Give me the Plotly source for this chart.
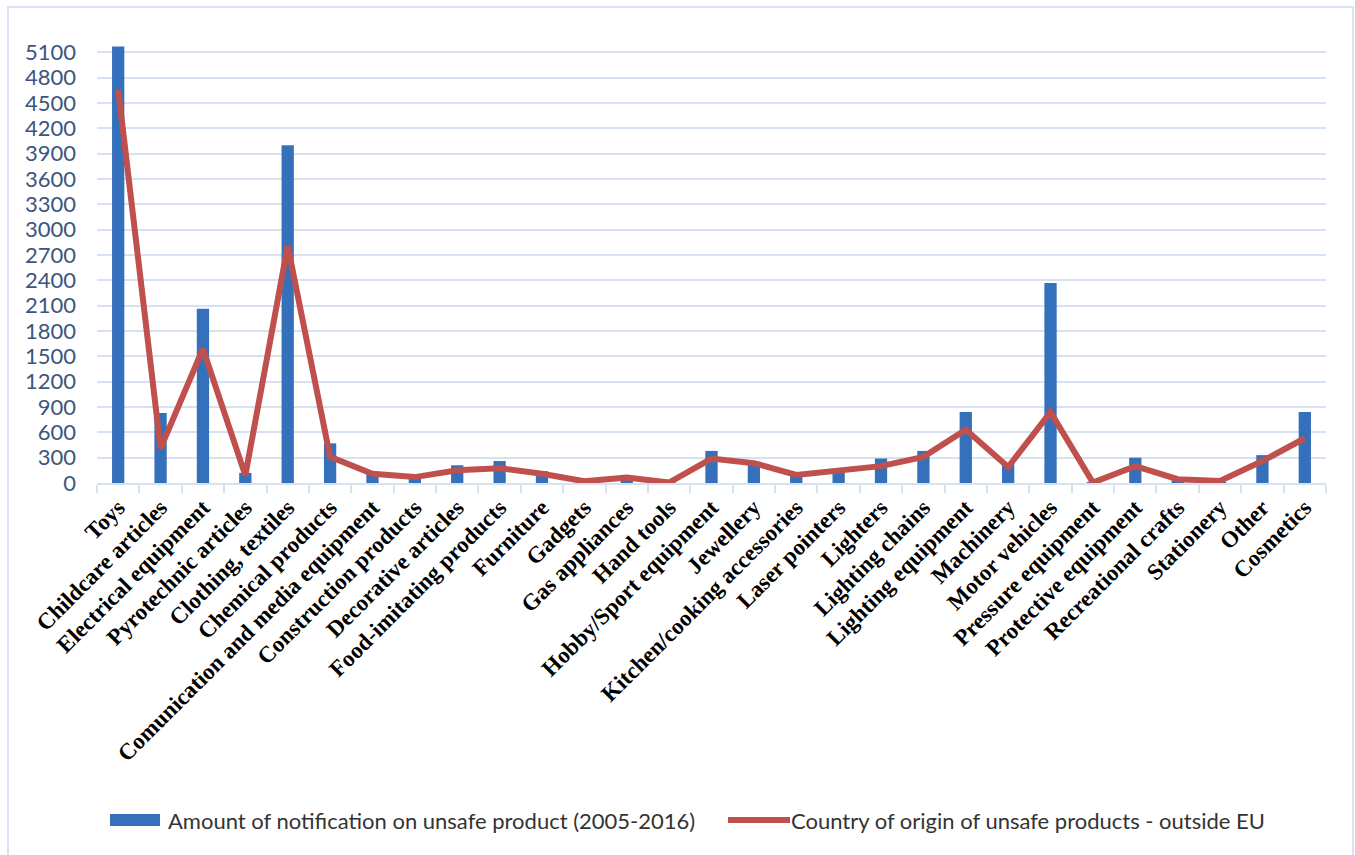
import plotly.graph_objects as go

categories = [
    "Toys", "Childcare articles", "Electrical equipment", "Pyrotechnic articles",
    "Clothing, textiles", "Chemical products", "Comunication and media equipment",
    "Construction products", "Decorative articles", "Food-imitating products",
    "Furniture", "Gadgets", "Gas appliances", "Hand tools", "Hobby/Sport equipment",
    "Jewellery", "Kitchen/cooking accessories", "Laser pointers", "Lighters",
    "Lighting chains", "Lighting equipment", "Machinery", "Motor vehicles",
    "Pressure equipment", "Protective equipment", "Recreational crafts",
    "Stationery", "Other", "Cosmetics",
]

notifications = [
    5170, 830, 2065, 120, 4000, 470, 120, 50, 210, 260,
    140, 10, 60, 5, 380, 250, 120, 150, 290, 380,
    840, 240, 2370, 5, 300, 30, 10, 330, 840,
]

outside_eu = [
    4660, 410, 1590, 90, 2810, 310, 110, 70, 150, 175,
    110, 20, 65, 5, 290, 235, 95, 150, 200, 310,
    630, 190, 840, 5, 200, 45, 25, 260, 530,
]

bar_name = "Amount of notification on unsafe product (2005-2016)"
line_name = "Country of origin of unsafe products - outside EU"

y_ticks = list(range(0, 5101, 300))

grid_col = "#d6e1f2"
tick_col = "#3b557f"
bar_col = "#3570ba"
line_col = "#c0504d"

# plot-area geometry in pixels, used to place the hand-drawn legend and frame
L, R, T, B = 97, 1326, 44, 483
W, H = R - L, B - T


def px(x):
    return (x - L) / W


def py(y):
    return (B - y) / H


fig = go.Figure()

fig.add_trace(go.Bar(
    x=categories,
    y=notifications,
    name=bar_name,
    marker=dict(color=bar_col, line=dict(width=0)),
    width=0.29,
))

fig.add_trace(go.Scatter(
    x=categories,
    y=outside_eu,
    mode="lines",
    name=line_name,
    line=dict(color=line_col, width=6),
))

legend_font = dict(family="Lato, Liberation Sans, sans-serif", size=22, color="#333333")

fig.update_layout(
    width=1355,
    height=855,
    margin=dict(l=L, r=1355 - R, t=T, b=855 - B),
    paper_bgcolor="white",
    plot_bgcolor="white",
    showlegend=False,
    xaxis=dict(
        type="category",
        tickangle=-45,
        tickfont=dict(family="Liberation Serif, Times New Roman, serif",
                      size=23, color="black", weight="bold"),
        showline=True,
        linecolor=grid_col,
        linewidth=2,
        ticks="outside",
        tickson="boundaries",
        ticklen=8,
        tickcolor=grid_col,
        tickwidth=2,
        showgrid=False,
        range=[-0.5, len(categories) - 0.5],
    ),
    yaxis=dict(
        range=[0, 5200],
        tickvals=y_ticks,
        ticktext=[str(v) for v in y_ticks],
        tickfont=dict(family="Lato, Liberation Sans, sans-serif", size=22, color=tick_col),
        showgrid=True,
        gridcolor=grid_col,
        gridwidth=2,
        zeroline=False,
        showline=False,
        ticks="",
        ticklabelstandoff=20,
    ),
    shapes=[
        # outer chart frame
        dict(type="rect", xref="paper", yref="paper",
             x0=px(8), x1=px(1353), y0=py(860), y1=py(7),
             line=dict(color="#d9e3f3", width=2), fillcolor="rgba(0,0,0,0)",
             layer="below"),
        # legend key: bar
        dict(type="rect", xref="paper", yref="paper",
             x0=px(110), x1=px(160), y0=py(826), y1=py(814),
             line=dict(width=0), fillcolor=bar_col),
        # legend key: line
        dict(type="line", xref="paper", yref="paper",
             x0=px(728), x1=px(790), y0=py(820), y1=py(820),
             line=dict(color=line_col, width=6)),
    ],
    annotations=[
        dict(xref="paper", yref="paper", x=px(166), y=py(820),
             xanchor="left", yanchor="middle", showarrow=False,
             text=bar_name, font=legend_font),
        dict(xref="paper", yref="paper", x=px(789), y=py(820),
             xanchor="left", yanchor="middle", showarrow=False,
             text=line_name, font=legend_font),
    ],
)

fig.write_html("out.html")
